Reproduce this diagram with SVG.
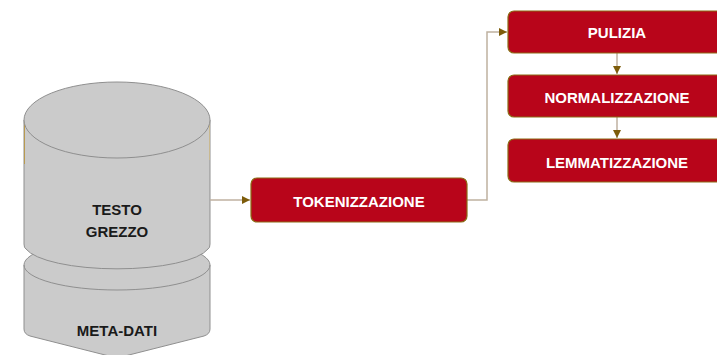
<svg xmlns="http://www.w3.org/2000/svg" width="717" height="355" viewBox="0 0 717 355">
<defs>
<marker id="arr" markerWidth="10" markerHeight="8" refX="8" refY="4" orient="auto" markerUnits="userSpaceOnUse">
<path d="M0,0 L8,4 L0,8 Z" fill="#7D5C0A"/>
</marker>
<style>
.cyl{fill:#CBCBCB;stroke:#8F8F8F;stroke-width:1}
.edge{fill:none;stroke:#8F8F8F;stroke-width:1}
.box{fill:#B8051A;stroke:#8B6A14;stroke-width:1.2}
.bt{font-family:"Liberation Sans",Arial,sans-serif;font-weight:bold;font-size:15px;fill:#FFFFFF;text-anchor:middle}
.ct{font-family:"Liberation Sans",Arial,sans-serif;font-weight:bold;font-size:15px;fill:#1A1A1A;text-anchor:middle}
.con{fill:none;stroke:#BFB1A0;stroke-width:1.5}
</style>
</defs>
<rect width="717" height="355" fill="#FFFFFF"/>
<g id="metadati">
<path class="cyl" d="M24,265 V329 Q24,334 30,336 L117,358 L204,336 Q210,334 210,329 V265 A93,25 0 0 0 24,265 Z"/>
<path class="edge" d="M24,265 A93,25 0 0 0 210,265"/>
<text class="ct" x="117" y="336">META-DATI</text>
</g>
<g id="testo">
<path class="cyl" d="M24,120 V244 Q24,248 26,249 A93,25 0 0 0 208,249 Q210,248 210,244 V120 Z"/>
<line x1="24.5" y1="120" x2="24.5" y2="164" stroke="#B89A50" stroke-width="1"/>
<line x1="209.5" y1="120" x2="209.5" y2="160" stroke="#C9B990" stroke-width="1"/>
<ellipse class="cyl" cx="117" cy="120" rx="93" ry="38"/>
<text class="ct" x="117" y="215">TESTO</text>
<text class="ct" x="117" y="237">GREZZO</text>
</g>
<g id="connectors">
<path class="con" d="M210,200 H250" marker-end="url(#arr)"/>
<path class="con" d="M467,200 H487 V32 H507" marker-end="url(#arr)"/>
<path class="con" d="M617,53 V74" marker-end="url(#arr)"/>
<path class="con" d="M617,117 V138" marker-end="url(#arr)"/>
</g>
<g id="tokenizzazione">
<rect class="box" x="251" y="178" width="216" height="44" rx="6"/>
<text class="bt" x="359" y="206.5">TOKENIZZAZIONE</text>
</g>
<g id="pulizia">
<rect class="box" x="508" y="11" width="218" height="42" rx="6"/>
<text class="bt" x="617" y="38">PULIZIA</text>
</g>
<g id="normalizzazione">
<rect class="box" x="508" y="75" width="218" height="42" rx="6"/>
<text class="bt" x="617" y="103">NORMALIZZAZIONE</text>
</g>
<g id="lemmatizzazione">
<rect class="box" x="508" y="139" width="218" height="43" rx="6"/>
<text class="bt" x="617" y="168">LEMMATIZZAZIONE</text>
</g>
</svg>
